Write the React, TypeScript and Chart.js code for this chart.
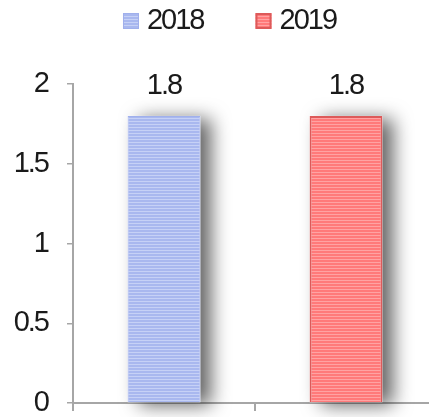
import React, { useEffect, useRef } from "react";
import { Chart, registerables } from "chart.js";

Chart.register(...registerables);

const categories = ["", ""];
const seriesNames = ["2018", "2019"];
const values2018 = [1.8, null];
const values2019 = [null, 1.8];
const yTicks = [0, 0.5, 1, 1.5, 2];

const FONT = '"Liberation Sans", Arial, sans-serif';
const FONT_SIZE = 29;
const SPACING = "-2px";

function makePattern(base: string, light: string): CanvasPattern | string {
  const c = document.createElement("canvas");
  c.width = 4;
  c.height = 3;
  const g = c.getContext("2d");
  if (!g) return base;
  g.fillStyle = base;
  g.fillRect(0, 0, 4, 3);
  g.fillStyle = light;
  g.fillRect(0, 1, 4, 1);
  const p = g.createPattern(c, "repeat");
  return p || base;
}

export default function App() {
  const ref = useRef<HTMLCanvasElement | null>(null);
  useEffect(() => {
    document.documentElement.style.overflow = "hidden";
    document.body.style.overflow = "hidden";
    const canvas = ref.current;
    if (!canvas) return;
    const blue = makePattern("#a9b8ef", "#c6d1f6");
    const red = makePattern("#ff7a7a", "#ffa3a3");

    const spacingPlugin = {
      id: "spacing",
      beforeInit(chart: any) {
        (chart.ctx as any).letterSpacing = SPACING;
      },
      beforeLayout(chart: any) {
        (chart.ctx as any).letterSpacing = SPACING;
      },
      beforeDraw(chart: any) {
        (chart.ctx as any).letterSpacing = SPACING;
      },
    };

    const shadowPlugin = {
      id: "shadow",
      beforeDatasetsDraw(chart: any) {
        const ctx = chart.ctx;
        ctx.save();
        ctx.shadowColor = "rgba(0,0,0,0.62)";
        ctx.shadowBlur = 18;
        ctx.shadowOffsetX = 11;
        ctx.shadowOffsetY = 3;
        ctx.fillStyle = "#ffffff";
        chart.data.datasets.forEach((ds: any, di: number) => {
          const meta = chart.getDatasetMeta(di);
          meta.data.forEach((el: any, i: number) => {
            const v = ds.data[i];
            if (v === null || v === undefined) return;
            const p = el.getProps(["x", "y", "base", "width"], true);
            const left = p.x - p.width / 2;
            const top = Math.min(p.y, p.base);
            const h = Math.abs(p.base - p.y);
            ctx.fillRect(left, top, p.width, h);
          });
        });
        ctx.restore();
      },
    };

    const labelsPlugin = {
      id: "labelsAndLegend",
      afterDraw(chart: any) {
        const ctx = chart.ctx;
        ctx.save();
        (ctx as any).letterSpacing = SPACING;
        ctx.font = `${FONT_SIZE}px ${FONT}`;
        ctx.fillStyle = "#1a1a1a";
        ctx.textAlign = "center";
        ctx.textBaseline = "alphabetic";
        chart.data.datasets.forEach((ds: any, di: number) => {
          const meta = chart.getDatasetMeta(di);
          meta.data.forEach((el: any, i: number) => {
            const v = ds.data[i];
            if (v === null || v === undefined) return;
            ctx.fillText(String(v), el.x, el.y - 22);
          });
        });
        // legend
        const box = 16;
        const gapText = 8;
        const gapItem = 52;
        ctx.textAlign = "left";
        const widths = chart.data.datasets.map((ds: any) => box + gapText + ctx.measureText(ds.label).width);
        const total = widths.reduce((a: number, b: number) => a + b, 0) + gapItem * (widths.length - 1);
        let x = chart.width / 2 - total / 2;
        chart.data.datasets.forEach((ds: any, di: number) => {
          ctx.fillStyle = ds.backgroundColor;
          ctx.fillRect(x, 13, box, box);
          if (ds.borderWidth) {
            ctx.strokeStyle = ds.borderColor;
            ctx.lineWidth = ds.borderWidth;
            ctx.strokeRect(x + ds.borderWidth / 2, 13 + ds.borderWidth / 2, box - ds.borderWidth, box - ds.borderWidth);
          }
          ctx.fillStyle = "#1a1a1a";
          ctx.fillText(ds.label, x + box + gapText, 29);
          x += widths[di] + gapItem;
        });
        ctx.restore();
      },
    };

    const chart = new Chart(canvas, {
      type: "bar",
      data: {
        labels: categories,
        datasets: [
          {
            label: seriesNames[0],
            data: values2018,
            backgroundColor: blue as any,
            borderColor: "#a0b0ec",
            borderWidth: 1,
            grouped: false,
            barPercentage: 0.4,
            categoryPercentage: 1,
            clip: false as any,
          },
          {
            label: seriesNames[1],
            data: values2019,
            backgroundColor: red as any,
            borderColor: "#dd5a5a",
            borderWidth: 2,
            grouped: false,
            barPercentage: 0.4,
            categoryPercentage: 1,
            clip: false as any,
          },
        ],
      },
      options: {
        animation: false,
        responsive: false,
        layout: { padding: { top: 84, right: 22, bottom: 6, left: 0 } },
        plugins: {
          legend: { display: false },
          tooltip: { enabled: false },
        },
        scales: {
          x: {
            z: 1,
            grid: {
              display: true,
              drawOnChartArea: false,
              drawTicks: true,
              tickLength: 8,
              color: "#a6a6a6",
              lineWidth: 2,
              offset: true,
            },
            border: { display: true, color: "#a6a6a6", width: 2 },
            ticks: { display: false },
          },
          y: {
            z: 1,
            min: 0,
            max: 2,
            afterBuildTicks(scale: any) {
              scale.ticks = yTicks.map((v) => ({ value: v }));
            },
            afterFit(scale: any) {
              scale.width = 73;
              scale.paddingTop = 0;
              scale.paddingBottom = 0;
            },
            grid: {
              display: true,
              drawOnChartArea: false,
              drawTicks: true,
              tickLength: 6,
              color: "#a6a6a6",
              lineWidth: 1.5,
            },
            border: { display: true, color: "#a6a6a6", width: 2 },
            ticks: {
              padding: 19,
              color: "#1a1a1a",
              font: { family: FONT, size: FONT_SIZE },
              callback: (v: any) => String(v),
            },
          },
        },
      },
      plugins: [spacingPlugin, shadowPlugin, labelsPlugin],
    });
    return () => chart.destroy();
  }, []);
  return (
    <div style={{ position: "absolute", left: 0, top: 0, width: 459, height: 417 }}>
      <canvas ref={ref} width={459} height={417} />
    </div>
  );
}
